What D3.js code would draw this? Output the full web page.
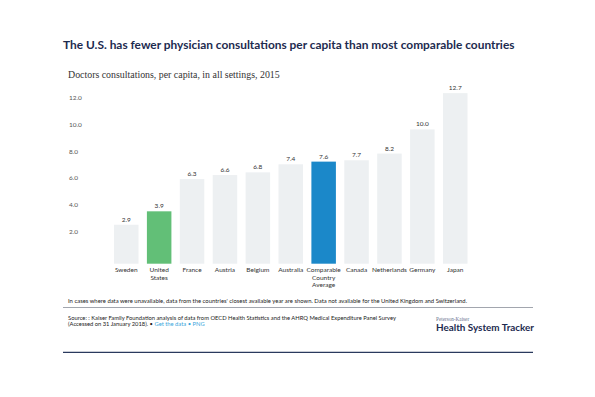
<!DOCTYPE html>
<html><head><meta charset="utf-8">
<script src="https://cdn.jsdelivr.net/npm/d3@7"></script>
<style>
body{margin:0;background:#fff;}
svg{display:block;}
</style></head>
<body><svg id="c" width="595" height="397"></svg>
<script>
const categories = ["Sweden","United States","France","Austria","Belgium","Australia","Comparable Country Average","Canada","Netherlands","Germany","Japan"];
const categoryLines = [["Sweden"],["United","States"],["France"],["Austria"],["Belgium"],["Australia"],["Comparable","Country","Average"],["Canada"],["Netherlands"],["Germany"],["Japan"]];
const values = [2.9,3.9,6.3,6.6,6.8,7.4,7.6,7.7,8.2,10.0,12.7];
const barColors = ["#edf0f2","#62bf77","#edf0f2","#edf0f2","#edf0f2","#edf0f2","#1b88c9","#edf0f2","#edf0f2","#edf0f2","#edf0f2"];
const yTicks = [2,4,6,8,10,12];

const svg = d3.select("#c");
const sans = "Lato, 'Open Sans', sans-serif";

svg.append("text").attr("x",63).attr("y",48.5)
  .attr("font-family",sans).attr("font-weight","700").attr("font-size",11.9)
  .attr("fill","#1d2b4f").text("The U.S. has fewer physician consultations per capita than most comparable countries");

svg.append("text").attr("x",68).attr("y",77.5)
  .attr("font-family","'Liberation Serif', serif").attr("font-size",9.9)
  .attr("fill","#333").text("Doctors consultations, per capita, in all settings, 2015");

const x = d3.scaleBand().domain(categories).range([114,467.5]).paddingInner(0.255).paddingOuter(0);
const y = d3.scaleLinear().domain([0,13]).range([263.7,89.1]);

const yAxis = svg.append("g").attr("transform","translate(69,0)")
  .call(d3.axisLeft(y).tickValues(yTicks).tickSize(0).tickFormat(d3.format(".1f")));
yAxis.select(".domain").remove();
yAxis.selectAll("text").attr("x",0).attr("dy","-0.5em").attr("text-anchor","start")
  .attr("font-family",sans).attr("font-size",6.5).attr("fill","#555");

svg.append("g").selectAll("rect").data(values).join("rect")
  .attr("x",(d,i)=>x(categories[i])).attr("width",x.bandwidth())
  .attr("y",d=>y(d)).attr("height",d=>y(0)-y(d))
  .attr("fill",(d,i)=>barColors[i]);

svg.append("g").selectAll("text").data(values).join("text")
  .attr("x",(d,i)=>x(categories[i])+x.bandwidth()/2).attr("y",d=>y(d)-3)
  .attr("text-anchor","middle").attr("font-family",sans).attr("font-size",6.5).attr("fill","#333")
  .text(d=>d3.format(".1f")(d));

const lab = svg.append("g").selectAll("text").data(categories).join("text")
  .attr("x",d=>x(d)+x.bandwidth()/2).attr("y",272.3)
  .attr("text-anchor","middle").attr("font-family",sans).attr("font-size",6.5).attr("fill","#333");
lab.each(function(d,i){
  const t=d3.select(this);
  categoryLines[i].forEach((l,j)=>{
    t.append("tspan").attr("x",x(d)+x.bandwidth()/2).attr("y",272.3+j*7.3).text(l);
  });
});

svg.append("text").attr("x",68).attr("y",302.5)
  .attr("font-family",sans).attr("font-size",5.9).attr("fill","#222")
  .text("In cases where data were unavailable, data from the countries' closest available year are shown. Data not available for the United Kingdom and Switzerland.");

svg.append("line").attr("x1",63).attr("x2",533).attr("y1",307.5).attr("y2",307.5)
  .attr("stroke","#8a8f99").attr("stroke-width",0.8);

svg.append("text").attr("x",68).attr("y",319.8)
  .attr("font-family",sans).attr("font-size",5.8).attr("fill","#222")
  .text("Source: : Kaiser Family Foundation analysis of data from OECD Health Statistics and the AHRQ Medical Expenditure Panel Survey");
const s2 = svg.append("text").attr("x",68).attr("y",326.4)
  .attr("font-family",sans).attr("font-size",5.8).attr("fill","#222");
s2.append("tspan").text("(Accessed on 31 January 2018). • ");
s2.append("tspan").attr("fill","#3aa6dc").text("Get the data • PNG");

svg.append("text").attr("x",436).attr("y",321)
  .attr("font-family","'Liberation Serif', serif").attr("font-size",5.2).attr("fill","#6a7390")
  .text("Peterson-Kaiser");
svg.append("text").attr("x",436).attr("y",331)
  .attr("font-family",sans).attr("font-weight","700").attr("font-size",9.9).attr("fill","#1d2b4f")
  .text("Health System Tracker");

svg.append("line").attr("x1",63).attr("x2",533).attr("y1",352.3).attr("y2",352.3)
  .attr("stroke","#2a3a5e").attr("stroke-width",1.3);
</script></body></html>
